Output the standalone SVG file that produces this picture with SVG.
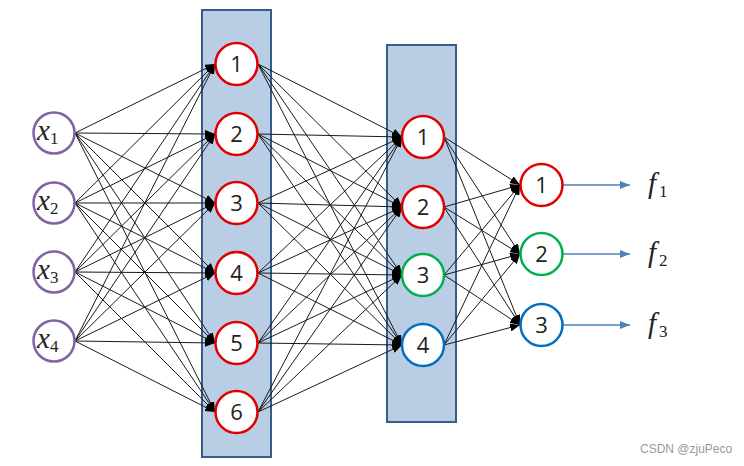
<svg xmlns="http://www.w3.org/2000/svg" width="744" height="466" viewBox="0 0 744 466">
<defs>
<style>
.e{stroke:#1a1a1a;stroke-width:1;fill:none;marker-end:url(#ah)}
.o{stroke:#4f81bd;stroke-width:1.3;fill:none;marker-end:url(#bh)}
.n{fill:#fff;stroke-width:2.5}
.in{stroke:#8064a2}
.r{stroke:#e00000}
.g{stroke:#00b050}
.b{stroke:#0070c0}
.num{font-family:"Open Sans","Liberation Sans",sans-serif;font-size:22px;fill:#222;text-anchor:middle}
.var{font-family:"Liberation Serif","DejaVu Serif",serif;font-style:italic;font-size:29px;fill:#222}
.sub{font-size:17px;font-style:normal}
.layer{fill:#b9cde5;stroke:#385d8a;stroke-width:2}
</style>
<marker id="ah" markerUnits="userSpaceOnUse" markerWidth="10" markerHeight="8" refX="10" refY="4" orient="auto"><path d="M0,0 L10,4 L0,8z" fill="#000"/></marker>
<marker id="bh" markerUnits="userSpaceOnUse" markerWidth="10" markerHeight="8" refX="10" refY="4" orient="auto"><path d="M0,0 L10,4 L0,8z" fill="#4f81bd"/></marker>
</defs>
<rect width="744" height="466" fill="#fff"/>
<rect id="layer1" class="layer" x="202" y="10" width="69" height="447"/>
<rect id="layer2" class="layer" x="387" y="45" width="69" height="377"/>
<g id="connectors">
<line class="e" x1="75" y1="133" x2="215" y2="64"/><line class="e" x1="75" y1="133" x2="215" y2="134"/><line class="e" x1="75" y1="133" x2="215" y2="203"/><line class="e" x1="75" y1="133" x2="215" y2="273"/><line class="e" x1="75" y1="133" x2="215" y2="343"/><line class="e" x1="75" y1="133" x2="215" y2="412"/>
<line class="e" x1="75" y1="203" x2="215" y2="64"/><line class="e" x1="75" y1="203" x2="215" y2="134"/><line class="e" x1="75" y1="203" x2="215" y2="203"/><line class="e" x1="75" y1="203" x2="215" y2="273"/><line class="e" x1="75" y1="203" x2="215" y2="343"/><line class="e" x1="75" y1="203" x2="215" y2="412"/>
<line class="e" x1="75" y1="272" x2="215" y2="64"/><line class="e" x1="75" y1="272" x2="215" y2="134"/><line class="e" x1="75" y1="272" x2="215" y2="203"/><line class="e" x1="75" y1="272" x2="215" y2="273"/><line class="e" x1="75" y1="272" x2="215" y2="343"/><line class="e" x1="75" y1="272" x2="215" y2="412"/>
<line class="e" x1="75" y1="341" x2="215" y2="64"/><line class="e" x1="75" y1="341" x2="215" y2="134"/><line class="e" x1="75" y1="341" x2="215" y2="203"/><line class="e" x1="75" y1="341" x2="215" y2="273"/><line class="e" x1="75" y1="341" x2="215" y2="343"/><line class="e" x1="75" y1="341" x2="215" y2="412"/>
<line class="e" x1="258" y1="64" x2="402" y2="137"/><line class="e" x1="258" y1="64" x2="402" y2="207"/><line class="e" x1="258" y1="64" x2="402" y2="275"/><line class="e" x1="258" y1="64" x2="402" y2="345"/>
<line class="e" x1="258" y1="134" x2="402" y2="137"/><line class="e" x1="258" y1="134" x2="402" y2="207"/><line class="e" x1="258" y1="134" x2="402" y2="275"/><line class="e" x1="258" y1="134" x2="402" y2="345"/>
<line class="e" x1="258" y1="203" x2="402" y2="137"/><line class="e" x1="258" y1="203" x2="402" y2="207"/><line class="e" x1="258" y1="203" x2="402" y2="275"/><line class="e" x1="258" y1="203" x2="402" y2="345"/>
<line class="e" x1="258" y1="273" x2="402" y2="137"/><line class="e" x1="258" y1="273" x2="402" y2="207"/><line class="e" x1="258" y1="273" x2="402" y2="275"/><line class="e" x1="258" y1="273" x2="402" y2="345"/>
<line class="e" x1="258" y1="343" x2="402" y2="137"/><line class="e" x1="258" y1="343" x2="402" y2="207"/><line class="e" x1="258" y1="343" x2="402" y2="275"/><line class="e" x1="258" y1="343" x2="402" y2="345"/>
<line class="e" x1="258" y1="412" x2="402" y2="137"/><line class="e" x1="258" y1="412" x2="402" y2="207"/><line class="e" x1="258" y1="412" x2="402" y2="275"/><line class="e" x1="258" y1="412" x2="402" y2="345"/>
<line class="e" x1="444" y1="137" x2="520" y2="185"/><line class="e" x1="444" y1="137" x2="520" y2="254"/><line class="e" x1="444" y1="137" x2="520" y2="325"/>
<line class="e" x1="444" y1="207" x2="520" y2="185"/><line class="e" x1="444" y1="207" x2="520" y2="254"/><line class="e" x1="444" y1="207" x2="520" y2="325"/>
<line class="e" x1="444" y1="275" x2="520" y2="185"/><line class="e" x1="444" y1="275" x2="520" y2="254"/><line class="e" x1="444" y1="275" x2="520" y2="325"/>
<line class="e" x1="444" y1="345" x2="520" y2="185"/><line class="e" x1="444" y1="345" x2="520" y2="254"/><line class="e" x1="444" y1="345" x2="520" y2="325"/>
<line class="o" x1="563" y1="185" x2="630" y2="185"/><line class="o" x1="563" y1="254" x2="630" y2="254"/><line class="o" x1="563" y1="325" x2="630" y2="325"/>
</g>
<g id="x1"><circle class="n in" cx="54" cy="133" r="20.5"/><text class="var" x="37" y="140">x<tspan class="sub" dy="4">1</tspan></text></g>
<g id="x2"><circle class="n in" cx="54" cy="203" r="20.5"/><text class="var" x="37" y="210">x<tspan class="sub" dy="4">2</tspan></text></g>
<g id="x3"><circle class="n in" cx="54" cy="272" r="20.5"/><text class="var" x="37" y="279">x<tspan class="sub" dy="4">3</tspan></text></g>
<g id="x4"><circle class="n in" cx="54" cy="341" r="20.5"/><text class="var" x="37" y="348">x<tspan class="sub" dy="4">4</tspan></text></g>
<g id="h1_1"><circle class="n r" cx="236.5" cy="64" r="21"/><text class="num" x="236.5" y="72">1</text></g>
<g id="h1_2"><circle class="n r" cx="236.5" cy="134" r="21"/><text class="num" x="236.5" y="142">2</text></g>
<g id="h1_3"><circle class="n r" cx="236.5" cy="203" r="21"/><text class="num" x="236.5" y="211">3</text></g>
<g id="h1_4"><circle class="n r" cx="236.5" cy="273" r="21"/><text class="num" x="236.5" y="281">4</text></g>
<g id="h1_5"><circle class="n r" cx="236.5" cy="343" r="21"/><text class="num" x="236.5" y="351">5</text></g>
<g id="h1_6"><circle class="n r" cx="236.5" cy="412" r="21"/><text class="num" x="236.5" y="420">6</text></g>
<g id="h2_1"><circle class="n r" cx="423" cy="137" r="21"/><text class="num" x="423" y="145">1</text></g>
<g id="h2_2"><circle class="n r" cx="423" cy="207" r="21"/><text class="num" x="423" y="215">2</text></g>
<g id="h2_3"><circle class="n g" cx="423" cy="275" r="21"/><text class="num" x="423" y="283">3</text></g>
<g id="h2_4"><circle class="n b" cx="423" cy="345" r="21"/><text class="num" x="423" y="353">4</text></g>
<g id="o1"><circle class="n r" cx="541.5" cy="185" r="21"/><text class="num" x="541.5" y="193">1</text></g>
<g id="o2"><circle class="n g" cx="541.5" cy="254" r="21"/><text class="num" x="541.5" y="262">2</text></g>
<g id="o3"><circle class="n b" cx="541.5" cy="325" r="21"/><text class="num" x="541.5" y="333">3</text></g>
<g id="f1"><text class="var" x="648" y="193">f<tspan class="sub" dy="4" dx="3">1</tspan></text></g>
<g id="f2"><text class="var" x="648" y="262">f<tspan class="sub" dy="4" dx="3">2</tspan></text></g>
<g id="f3"><text class="var" x="648" y="333">f<tspan class="sub" dy="4" dx="3">3</tspan></text></g>
<text x="640" y="453" font-family="Liberation Sans, Arial, sans-serif" font-size="12" fill="#999">CSDN @zjuPeco</text>
</svg>
